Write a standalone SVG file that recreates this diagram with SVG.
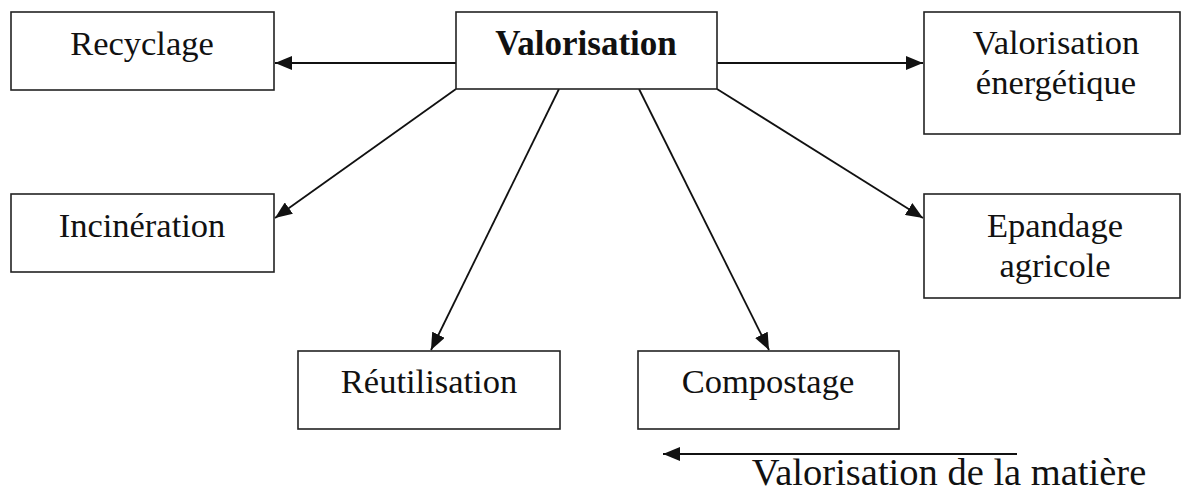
<svg xmlns="http://www.w3.org/2000/svg" width="1181" height="502" viewBox="0 0 1181 502">
<style>
.box{fill:#fff;stroke:#222;stroke-width:1.6}
.t{font-family:"Liberation Serif","Times New Roman",serif;font-size:34.5px;fill:#111;text-anchor:middle}
.b{font-weight:bold;font-size:35px}
.c{stroke:#111;stroke-width:1.8;fill:none;marker-end:url(#ah)}
</style>
<defs>
<marker id="ah" markerUnits="userSpaceOnUse" markerWidth="18" markerHeight="14" refX="17" refY="7" orient="auto">
<path d="M0,0 L17,7 L0,14 Z" fill="#111"/>
</marker>
</defs>
<rect width="1181" height="502" fill="#fff"/>
<g id="connectors">
<line class="c" x1="456" y1="63" x2="275" y2="63"/>
<line class="c" x1="717" y1="63" x2="923" y2="63"/>
<line class="c" x1="456" y1="89" x2="275" y2="218"/>
<line class="c" x1="559" y1="89" x2="431" y2="350"/>
<line class="c" x1="639" y1="89" x2="769" y2="350"/>
<line class="c" x1="717" y1="89" x2="923" y2="218"/>
<line class="c" x1="1017" y1="454" x2="663" y2="454"/>
</g>
<g id="valorisation"><rect class="box" x="456" y="12" width="261" height="77"/><text class="t b" x="586" y="55">Valorisation</text></g>
<g id="recyclage"><rect class="box" x="11" y="12" width="263" height="78"/><text class="t" x="142" y="55">Recyclage</text></g>
<g id="valorisation-energetique"><rect class="box" x="924" y="12" width="256" height="122"/><text class="t" x="1056" y="54">Valorisation</text><text class="t" x="1056" y="94">énergétique</text></g>
<g id="incineration"><rect class="box" x="11" y="194" width="263" height="78"/><text class="t" x="142" y="237">Incinération</text></g>
<g id="epandage"><rect class="box" x="924" y="194" width="256" height="104"/><text class="t" x="1055" y="237">Epandage</text><text class="t" x="1055" y="277">agricole</text></g>
<g id="reutilisation"><rect class="box" x="298" y="351" width="262" height="78"/><text class="t" x="429" y="393">Réutilisation</text></g>
<g id="compostage"><rect class="box" x="638" y="351" width="261" height="78"/><text class="t" x="768" y="393">Compostage</text></g>
<g id="label"><text class="t" x="949" y="485" style="font-size:38.5px">Valorisation de la matière</text></g>
</svg>
